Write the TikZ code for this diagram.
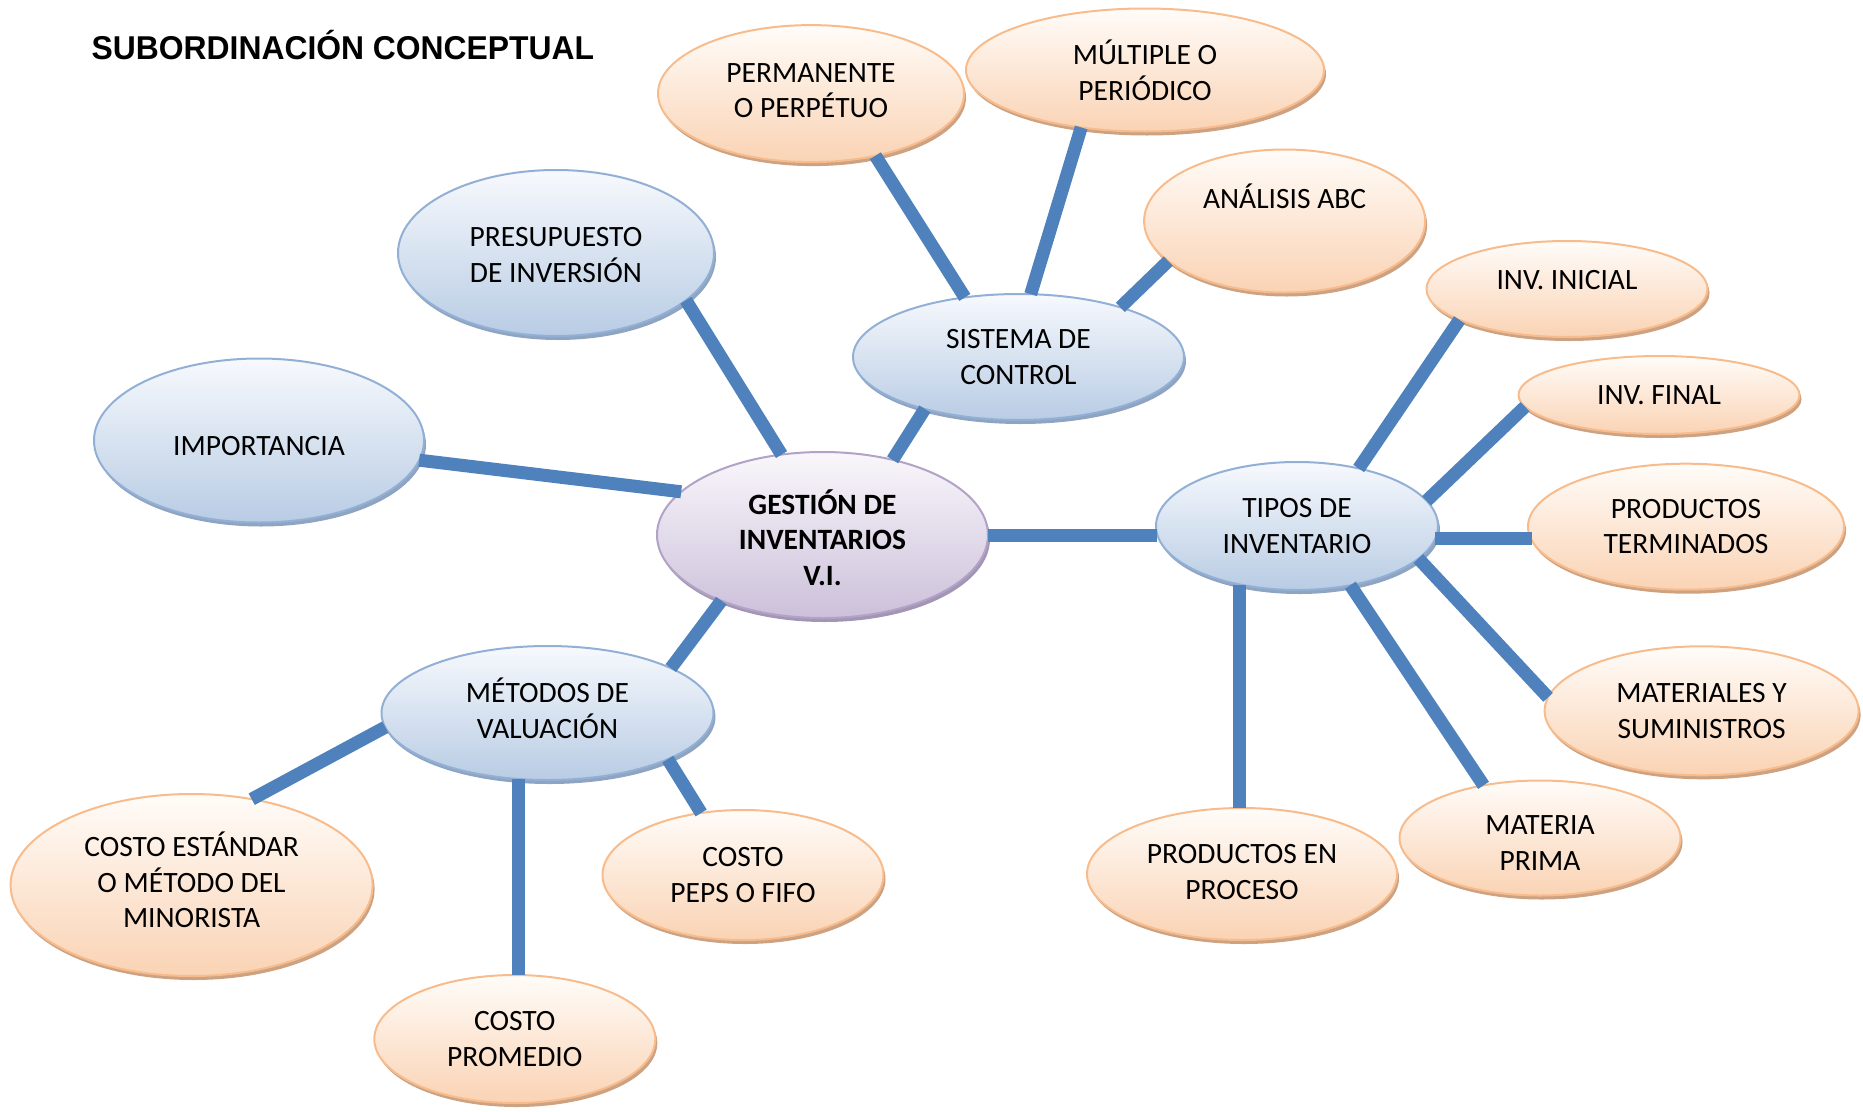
\documentclass[tikz,border=0pt]{standalone}
\usepackage{fontspec}
\setmainfont{Carlito}
\newfontfamily\titlefont{Liberation Sans}
\usetikzlibrary{shapes.geometric}

\definecolor{linkblue}{HTML}{4F81BD}
\definecolor{blueedge}{HTML}{92B0D6}
\definecolor{bluetop}{HTML}{F7F9FD}
\definecolor{bluebot}{HTML}{B8CCE4}
\definecolor{blueshade}{HTML}{8FA4C0}
\definecolor{orangeedge}{HTML}{F8BC8C}
\definecolor{orangetop}{HTML}{FFFCF9}
\definecolor{orangebot}{HTML}{FAD3B4}
\definecolor{orangeshade}{HTML}{CCA283}
\definecolor{violetedge}{HTML}{B3A2C7}
\definecolor{violettop}{HTML}{F9F7FB}
\definecolor{violetbot}{HTML}{CCC0DA}
\definecolor{violetshade}{HTML}{A396B4}

\tikzset{
  bubble/.style={ellipse, inner sep=0pt, outer sep=0pt, line width=2pt,
    align=center, font=\fontsize{29.5}{35.6}\selectfont},
  bluebubble/.style={bubble, draw=blueedge, top color=bluetop, bottom color=bluebot,
    preaction={fill=blueshade, transform canvas={shift={(2pt,-4pt)}}}},
  orangebubble/.style={bubble, draw=orangeedge, top color=orangetop, bottom color=orangebot,
    preaction={fill=orangeshade, transform canvas={shift={(2pt,-4pt)}}}},
  violetbubble/.style={bubble, draw=violetedge, top color=violettop, bottom color=violetbot,
    preaction={fill=violetshade, transform canvas={shift={(2pt,-4pt)}}}},
  size/.style 2 args={minimum width=#1pt, minimum height=#2pt},
  bubbletext/.style={inner sep=0pt, align=center, font=\fontsize{29.5}{35.6}\selectfont},
  link/.style={draw=linkblue, line width=13pt},
}

\begin{document}
\begin{tikzpicture}[x=1pt, y=-1pt]
\useasboundingbox (0,0) rectangle (1863,1111);

% heading
\node[anchor=base west, inner sep=0pt] (title) at (91.5,59.5)
  {\scalebox{0.965}[1]{\titlefont\bfseries\fontsize{33}{40}\selectfont SUBORDINACIÓN CONCEPTUAL}};

% central concept
\node[violetbubble, size={331}{166}] (gi) at (822.5,535) {};
\node[bubbletext, font=\fontsize{29.5}{35.6}\selectfont\bfseries] (gitext) at ([yshift=-2.5pt]gi.center)
  {GESTIÓN DE\\INVENTARIOS\\V.I.};

% first level
\node[bluebubble, size={330}{164}] (imp) at (259,440.5) {};
\node[bubbletext] (imptext) at ([yshift=-6pt]imp.center) {IMPORTANCIA};
\node[bluebubble, size={316}{166}] (pre) at (556,253) {};
\node[bubbletext] (pretext) at ([yshift=-2pt]pre.center) {PRESUPUESTO\\DE INVERSIÓN};
\node[bluebubble, size={331}{126}] (sc) at (1018.5,357) {SISTEMA DE\\CONTROL};
\node[bluebubble, size={282}{128}] (tip) at (1297,526) {TIPOS DE\\INVENTARIO};
\node[bluebubble, size={332}{134}] (mv) at (547.5,713) {};
\node[bubbletext] (mvtext) at ([yshift=5pt]mv.center) {MÉTODOS DE\\VALUACIÓN};

% control systems
\node[orangebubble, size={306}{137}] (per) at (811,93.6) {};
\node[bubbletext] (pertext) at ([yshift=3pt]per.center) {PERMANENTE\\O PERPÉTUO};
\node[orangebubble, size={358}{123}] (mul) at (1145,70) {MÚLTIPLE O\\PERIÓDICO};
\node[orangebubble, size={281}{143}] (abc) at (1284.6,221) {};
\node[bubbletext] (abctext) at ([yshift=25pt]abc.center) {ANÁLISIS ABC};

% inventory types
\node[orangebubble, size={281}{96}] (ini) at (1567,289) {};
\node[bubbletext] (initext) at ([yshift=9pt]ini.center) {INV. INICIAL};
\node[orangebubble, size={281}{78}] (fin) at (1659,395) {INV. FINAL};
\node[orangebubble, size={316}{126}] (pt) at (1686,526.7) {PRODUCTOS\\TERMINADOS};
\node[orangebubble, size={314}{129}] (mat) at (1701.6,710.8) {MATERIALES Y\\SUMINISTROS};
\node[orangebubble, size={281}{115}] (mp) at (1540,838) {};
\node[bubbletext] (mptext) at ([yshift=-5pt]mp.center) {MATERIA\\PRIMA};
\node[orangebubble, size={310}{132}] (pp) at (1242,874) {};
\node[bubbletext] (pptext) at ([yshift=2pt]pp.center) {PRODUCTOS EN\\PROCESO};

% valuation methods
\node[orangebubble, size={362}{182}] (ce) at (191.6,885) {};
\node[bubbletext] (cetext) at ([yshift=5pt]ce.center) {COSTO ESTÁNDAR\\O MÉTODO DEL\\MINORISTA};
\node[orangebubble, size={281}{130}] (peps) at (743,875) {COSTO\\PEPS O FIFO};
\node[orangebubble, size={281}{128}] (prom) at (514.8,1039) {COSTO\\PROMEDIO};

% connectors
\draw[link] (imp.-7.7) -- (gi.163.6);
\draw[link] (pre.-20.1) -- (gi.117.3);
\draw[link] (sc.209.5) -- (gi.47.5);
\draw[link] (per.-44.4) -- (sc.132.6);
\draw[link] (mul.-138.1) -- (sc.79.1);
\draw[link] (abc.-161.7) -- (sc.26.8);
\draw[link] (gi.0) -- (tip.183.5 |- gi.0);
\draw[link] (gi.213.5) -- (mv.20.3);
\draw[link] (tip.43.4) -- (ini.196.5);
\draw[link] (tip.11.9) -- (fin.185.7);
\draw[link] (tip.-5.8) -- (pt.185 |- tip.-5.8);
\draw[link] (tip.-15.3) -- (mat.175);
\draw[link] (tip.-48.3) -- (mp.137.4);
\draw[link] (pp.92.6 |- tip.227.8) -- (pp.92.6);
\draw[link] (mv.185) -- (ce.55.3);
\draw[link] (prom.87.1 |- mv.246.8) -- (prom.87.1);
\draw[link] (mv.-21.5) -- (peps.124.3);
\end{tikzpicture}
\end{document}
